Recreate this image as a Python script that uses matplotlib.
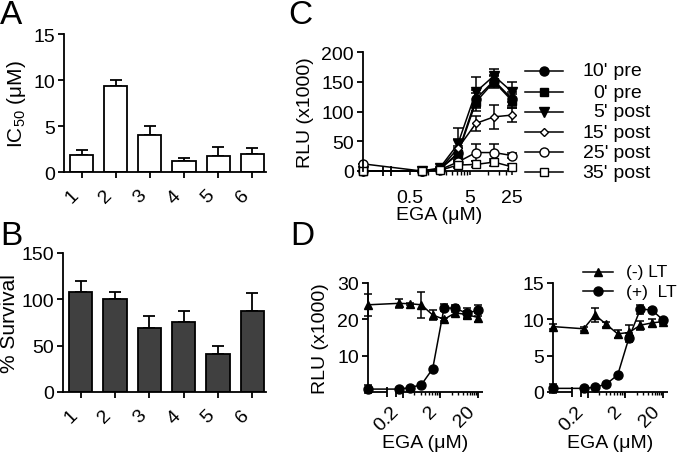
import matplotlib
matplotlib.use("Agg")
import matplotlib.pyplot as plt
from matplotlib.lines import Line2D

plt.rcParams['font.family'] = ['Liberation Sans', 'DejaVu Sans']
plt.rcParams['font.size'] = 14
plt.rcParams['mathtext.default'] = 'regular'

# ---- data ----
compounds = ['1', '2', '3', '4', '5', '6']
ic50 = [1.8, 9.3, 4.0, 1.2, 1.7, 2.0]
ic50_err = [0.6, 0.7, 1.0, 0.3, 1.0, 0.6]
survival = [108, 100, 69, 76, 41, 87]
survival_err = [12, 8, 13, 11, 9, 20]

ega_c = [0, 0.78, 1.56, 3.125, 6.25, 12.5, 25]
c_labels = ["10' pre", "0' pre", "5' post", "15' post", "25' post", "35' post"]
c_vals = [
    [0, 0, 3, 30, 121, 152, 121],
    [0, 0, 3, 28, 116, 150, 118],
    [0, 0, 5, 45, 133, 160, 133],
    [0, 0, 3, 38, 80, 91, 94],
    [12, 0, 2, 15, 31, 31, 26],
    [0, 0, 1, 10, 11, 15, 7],
]
c_errs = [
    [0, 0, 2, 12, 15, 10, 12],
    [0, 0, 2, 10, 15, 10, 12],
    [0, 0, 2, 28, 25, 12, 17],
    [0, 0, 2, 15, 12, 20, 12],
    [0, 0, 1, 8, 15, 15, 4],
    [0, 0, 1, 5, 5, 6, 4],
]

ega_d = [0, 0.156, 0.3125, 0.625, 1.25, 2.5, 5, 10, 20]
d_labels = ['(-) LT', '(+)  LT']
d1_minus = [24.0, 24.4, 24.3, 24.0, 21.2, 20.0, 21.8, 21.3, 20.5]
d1_minus_err = [3.0, 1.2, 0.3, 3.5, 1.5, 0.5, 1.0, 1.0, 1.2]
d1_plus = [0.8, 0.8, 1.2, 2.0, 6.4, 23.2, 23.0, 21.7, 22.5]
d1_plus_err = [1.2, 0.2, 0.2, 0.3, 0.3, 1.0, 1.0, 1.5, 1.5]
d2_minus = [9.0, 8.7, 10.6, 9.3, 8.0, 8.2, 9.2, 9.5, 9.7]
d2_minus_err = [0.3, 0.3, 0.9, 0.3, 0.6, 1.0, 0.6, 0.6, 0.3]
d2_plus = [0.5, 0.5, 0.65, 1.1, 2.35, 7.5, 11.4, 11.3, 9.9]
d2_plus_err = [0.6, 0.1, 0.1, 0.1, 0.1, 0.6, 0.6, 0.3, 0.3]

W, H = 680, 456
fig = plt.figure(figsize=(6.8, 4.56), dpi=100)


def px_axes(l, t, r, b):
    return fig.add_axes([l / W, 1 - b / H, (r - l) / W, (b - t) / H])


def style(ax):
    for s in ['top', 'right']:
        ax.spines[s].set_visible(False)
    for s in ['left', 'bottom']:
        ax.spines[s].set_linewidth(1.3)
    ax.tick_params(width=1.3, length=4.5, labelsize=14, pad=2)


def bar_panel(ax, vals, errs, color):
    x = range(1, len(vals) + 1)
    ax.bar(x, vals, width=0.68, color=color, edgecolor='k', linewidth=1.3, zorder=2)
    ax.errorbar(x, vals, yerr=[[0] * len(vals), errs], fmt='none', ecolor='k',
                elinewidth=1.3, capsize=4.3, capthick=1.3, zorder=1)
    ax.set_xlim(0.485, 6.4)
    ax.set_xticks(list(x))
    ax.set_xticklabels(compounds, rotation=45, ha='right')
    style(ax)
    ax.tick_params(axis='x', pad=6)


# A
axA = px_axes(64, 35, 266, 173)
bar_panel(axA, ic50, ic50_err, 'white')
axA.set_ylim(0, 15)
axA.set_yticks([0, 5, 10, 15])
axA.set_ylabel('IC$_{50}$ (μM)', fontsize=15, labelpad=4)

# B
axB = px_axes(63, 254, 266, 393)
bar_panel(axB, survival, survival_err, '#404040')
axB.set_ylim(0, 150)
axB.set_yticks([0, 50, 100, 150])
axB.set_ylabel('% Survival', fontsize=15, labelpad=2)


def broken_axis(ax, lin_end, log_start):
    ax.spines['bottom'].set_visible(False)
    kw = dict(transform=ax.transAxes, color='k', lw=1.3, clip_on=False,
              solid_capstyle='butt')
    ax.plot([0, lin_end], [0, 0], **kw)
    ax.plot([log_start, 1], [0, 0], **kw)
    h = 5.0 / (ax.get_position().height * H)
    ax.plot([lin_end, lin_end], [-h, h], **kw)
    ax.plot([log_start, log_start], [-h, h], **kw)


# C
axC = px_axes(363, 53, 515, 172)
axC.set_xscale('symlog', linthresh=0.241, linscale=0.42)
c_marks = [('o', 'k', 6.5), ('s', 'k', 6), ('v', 'k', 6.5),
           ('D', 'white', 4.5), ('o', 'white', 6.5), ('s', 'white', 5.5)]
for vals, errs, (m, fc, ms) in zip(c_vals, c_errs, c_marks):
    axC.errorbar(ega_c, vals, yerr=errs, fmt='-' + m, color='k', mfc=fc, mec='k',
                 ms=ms, lw=1.1, elinewidth=1.1, capsize=3.5, capthick=1.1,
                 clip_on=False)
axC.set_xlim(0, 28)
axC.set_ylim(0, 200)
axC.set_yticks([0, 50, 100, 150, 200])
axC.set_xticks([0.5, 5, 25])
axC.set_xticklabels(['0.5', '5', '25'])
axC.set_xticks([1, 1.5, 2, 2.5, 3, 3.5, 4, 4.5, 10, 15, 20], minor=True)
style(axC)
axC.tick_params(axis='x', which='major', length=3, width=1.1, pad=10)
axC.tick_params(axis='x', which='minor', length=3, width=1.0)
broken_axis(axC, 0.132, 0.184)
axC.set_ylabel('RLU (x1000)', fontsize=14, labelpad=5)
axC.set_xlabel('EGA (μM)', fontsize=14, labelpad=0)

# C legend
rows_c = [72, 93, 113, 133, 153, 173]
for lab, (m, fc, ms), y in zip(c_labels, c_marks, rows_c):
    fy = 1 - y / H
    fig.add_artist(Line2D([525 / W, 563 / W], [fy, fy], color='k', lw=1.1))
    fig.add_artist(Line2D([544 / W], [fy], marker=m, color='k', mfc=fc, mec='k', ms=ms))
    num, rest = lab.split("'")
    fig.text(608 / W, fy, num + "'", ha='right', va='center', fontsize=14)
    fig.text(608 / W, fy, ' ' + rest.strip(), ha='left', va='center', fontsize=14)

# D
d_sets = [(368, 483, [0, 30], [10, 20, 30], d1_minus, d1_minus_err, d1_plus, d1_plus_err),
          (553, 668, [0, 15], [0, 5, 10, 15], d2_minus, d2_minus_err, d2_plus, d2_plus_err)]
axD = []
for l, r, ylim, yt, mv, me, pv, pe in d_sets:
    ax = px_axes(l, 284, r, 393)
    ax.set_xscale('symlog', linthresh=0.131, linscale=0.663)
    ax.errorbar(ega_d, mv, yerr=me, fmt='-^', color='k', ms=6, lw=1.1,
                elinewidth=1.1, capsize=3, capthick=1.1, clip_on=False)
    ax.errorbar(ega_d, pv, yerr=pe, fmt='-o', color='k', ms=6.5, lw=1.1,
                elinewidth=1.1, capsize=3, capthick=1.1, clip_on=False)
    ax.set_xlim(0, 27)
    ax.set_ylim(*ylim)
    ax.set_yticks(yt)
    ax.set_xticks([0.2, 2, 20])
    ax.set_xticklabels(['0.2', '2', '20'], rotation=45, ha='right')
    ax.set_xticks([0.4, 0.6, 0.8, 1.0, 1.2, 1.4, 1.6, 1.8,
                   4, 6, 8, 10, 12, 14, 16, 18], minor=True)
    style(ax)
    ax.tick_params(axis='x', which='major', length=4.5, pad=3)
    ax.tick_params(axis='x', which='minor', length=2.5, width=1.0)
    broken_axis(ax, 0.165, 0.243)
    ax.set_xlabel('EGA (μM)', fontsize=14, labelpad=0)
    axD.append(ax)
axD[0].set_ylabel('RLU (x1000)', fontsize=14, labelpad=6)

# D legend
for lab, m, ms, y in zip(d_labels, ['^', 'o'], [6, 6.5], [273, 292]):
    fy = 1 - y / H
    fig.add_artist(Line2D([583 / W, 613 / W], [fy, fy], color='k', lw=1.1))
    fig.add_artist(Line2D([598 / W], [fy], marker=m, color='k', ms=ms))
    fig.text(626 / W, fy, lab, ha='left', va='center', fontsize=12.5)

# panel letters
for lab, x, y in [('A', 0, 16), ('B', 0, 237), ('C', 288, 16), ('D', 290, 237)]:
    fig.text(x / W, 1 - y / H, lab, fontsize=24, ha='left', va='center')

fig.savefig('out.png', dpi=100)
